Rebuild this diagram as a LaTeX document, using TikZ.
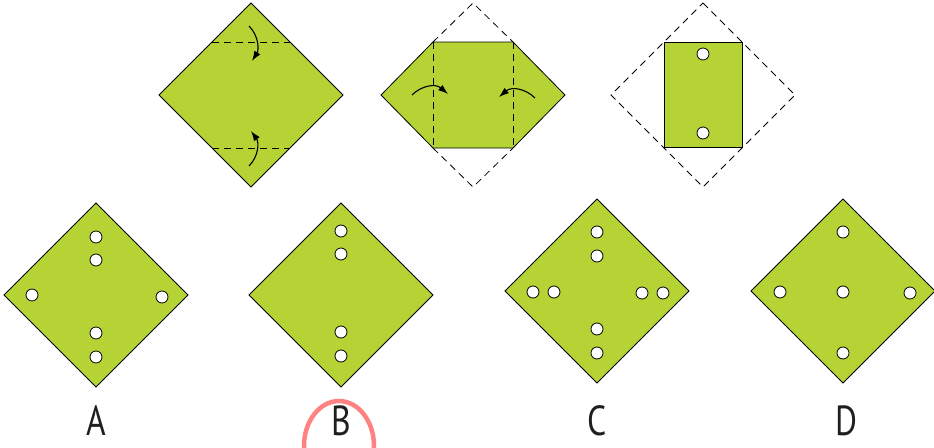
\documentclass[tikz,border=0pt]{standalone}
\usepackage{fontspec}
\setmainfont{PT Sans}
\usetikzlibrary{arrows.meta}
\definecolor{papergreen}{RGB}{181,211,53}
\definecolor{markred}{RGB}{255,130,130}
\newcommand{\optlabel}[1]{\scalebox{0.8}[1]{#1}}

\begin{document}
\begin{tikzpicture}[x=1pt, y=-1pt,
    paper/.style={fill=papergreen, draw=black, line width=0.8pt},
    fold/.style={draw=black, line width=0.8pt, dash pattern=on 7pt off 5pt},
    hole/.style={fill=white, draw=black, line width=0.8pt},
    turn/.style={draw=black, line width=1.1pt, -{Latex[length=10pt,width=7pt]}},
    choice/.style={font=\fontsize{42}{42}\selectfont, text=black!88, inner sep=0pt,
        text depth=0pt, anchor=base},
    ring/.style={draw=markred, line width=4.5pt}]
    \useasboundingbox (0,0) rectangle (934,447);
    \clip (0,0) rectangle (934,447);

    % Step 1: square, fold top and bottom corners
    \draw[paper] (251,3) -- (343,95) -- (251,187) -- (159,95) -- cycle;
    \draw[fold] (212,42) -- (290,42);
    \draw[fold] (212,148) -- (290,148);
    \draw[turn] (249,26) .. controls (259,36) and (259,50) .. (252,61);
    \draw[turn] (249,166) .. controls (259,156) and (259,142) .. (251,131);

    % Step 2: fold left and right corners
    \draw[fold] (433,42) -- (473,3) -- (513,42);
    \draw[fold] (433,148) -- (473,187) -- (513,148);
    \draw[paper] (433,42) -- (513,42) -- (565,95) -- (513,148) -- (433,148) -- (381,95) -- cycle;
    \draw[fold] (433,42) -- (433,148);
    \draw[fold] (513,42) -- (513,148);
    \draw[turn] (412,95) .. controls (421,86) and (435,83) .. (448,94);
    \draw[turn] (535,98) .. controls (526,89) and (512,86) .. (499,97);

    % Step 3: folded rectangle with two holes
    \draw[fold] (703,3) -- (795,95) -- (703,187) -- (611,95) -- cycle;
    \draw[paper] (664,42) rectangle (742,147);
    \foreach \y in {54,133} {
        \draw[hole] (703,\y) circle (6);
    }

    % Answer A
    \draw[paper] (96,203) -- (188,295) -- (96,387) -- (4,295) -- cycle;
    \foreach \p in {(96,237),(96,260),(32,295),(162,297),(96,333),(96,357)} {
        \draw[hole] \p circle (6);
    }

    % Answer B
    \draw[paper] (341,203) -- (433,295) -- (341,387) -- (249,295) -- cycle;
    \foreach \y in {231,254,332,356} {
        \draw[hole] (341,\y) circle (6);
    }

    % Answer C
    \draw[paper] (597,199) -- (689,291) -- (597,383) -- (505,291) -- cycle;
    \foreach \p in {(597,232),(597,256),(533,292),(554,292),(642,293),(663,293),(597,329),(597,353)} {
        \draw[hole] \p circle (6);
    }

    % Answer D
    \draw[paper] (843,199) -- (935,291) -- (843,383) -- (751,291) -- cycle;
    \foreach \p in {(843,232),(780,292),(843,292),(910,293),(843,353)} {
        \draw[hole] \p circle (6);
    }

    % Labels
    \node[choice] (labA) at (96,435) {\optlabel{A}};
    \node[choice] (labB) at (341,435) {\optlabel{B}};
    \node[choice] (labC) at (597,435) {\optlabel{C}};
    \node[choice] (labD) at (846,435) {\optlabel{D}};

    % Marked answer
    \draw[ring] ([shift={(-2,11)}]labB.base) ellipse (35 and 45);
\end{tikzpicture}
\end{document}
